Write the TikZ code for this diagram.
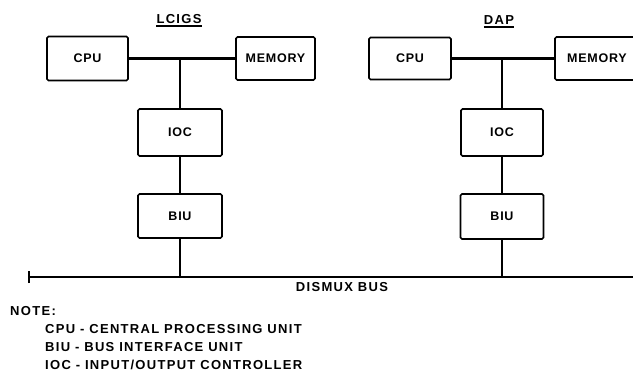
\documentclass[tikz,border=0pt]{standalone}
\usepackage{fontspec}
\newfontfamily\labfont{Liberation Sans}[LetterSpace=10]
\newfontfamily\boxfont{Liberation Sans}[LetterSpace=6]
\tikzset{
  box/.style={draw=black, line width=1.6pt, rounded corners=1.5pt, inner sep=0pt,
    font=\boxfont\bfseries\fontsize{12.5}{14}\selectfont},
  wire/.style={draw=black, line width=2.1pt},
  bus/.style={draw=black, line width=2.5pt},
  txt/.style={inner sep=0pt, anchor=base west, font=\labfont\bfseries\fontsize{13}{15}\selectfont},
  title/.style={inner sep=0pt, anchor=base, font=\labfont\bfseries\fontsize{13}{15}\selectfont}
}
\begin{document}
\begin{tikzpicture}[x=1pt,y=-1pt]
\useasboundingbox[fill=white] (0,0) rectangle (633,373);
% LCIGS
\node[title] (t1) at (179,23) {LCIGS};
\draw[line width=1.4pt] ([yshift=-3pt]t1.base west) -- ([yshift=-3pt]t1.base east);
\node[box, minimum width=81pt, minimum height=44pt] (cpu1) at (87.5,58.5) {CPU};
\node[box, minimum width=79pt, minimum height=43pt] (mem1) at (275.5,58.5) {MEMORY};
\node[box, minimum width=84pt, minimum height=47pt] (ioc1) at (180,132.5) {IOC};
\node[box, minimum width=84pt, minimum height=44pt] (biu1) at (180,216) {BIU};
% DAP
\node[title] (t2) at (499,24) {DAP};
\draw[line width=1.4pt] ([yshift=-3pt]t2.base west) -- ([yshift=-3pt]t2.base east);
\node[box, minimum width=82pt, minimum height=42pt] (cpu2) at (410,58.5) {CPU};
\node[box, minimum width=84pt, minimum height=43pt] (mem2) at (597,58.5) {MEMORY};
\node[box, minimum width=82pt, minimum height=47pt] (ioc2) at (502,132.5) {IOC};
\node[box, minimum width=83pt, minimum height=45pt] (biu2) at (502,216.5) {BIU};
% bus
\coordinate (busL) at (29,277);
\coordinate (busR) at (633,277);
\coordinate (j1) at (180,58.5);
\coordinate (j2) at (502,58.5);
\draw[bus] (busL) -- (busR);
\draw[line width=2pt] ([yshift=-6pt]busL) -- ([yshift=6pt]busL);
% connectors
\draw[wire] (cpu1.east) -- (mem1.west);
\draw[wire] (j1) -- (ioc1.north);
\draw[wire] (ioc1.south) -- (biu1.north);
\draw[wire] (biu1.south) -- (biu1.south |- busL);
\draw[wire] (cpu2.east) -- (mem2.west);
\draw[wire] (j2) -- (ioc2.north);
\draw[wire] (ioc2.south) -- (biu2.north);
\draw[wire] (biu2.south) -- (biu2.south |- busL);
% labels
\node[title] (busname) at (342,291) {DISMUX BUS};
\node[txt] (note) at (10,315) {NOTE:};
\node[txt] (n1) at (45,333) {CPU - CENTRAL PROCESSING UNIT};
\node[txt] (n2) at (45,351) {BIU - BUS INTERFACE UNIT};
\node[txt] (n3) at (45,369) {IOC - INPUT/OUTPUT CONTROLLER};
\end{tikzpicture}
\end{document}
